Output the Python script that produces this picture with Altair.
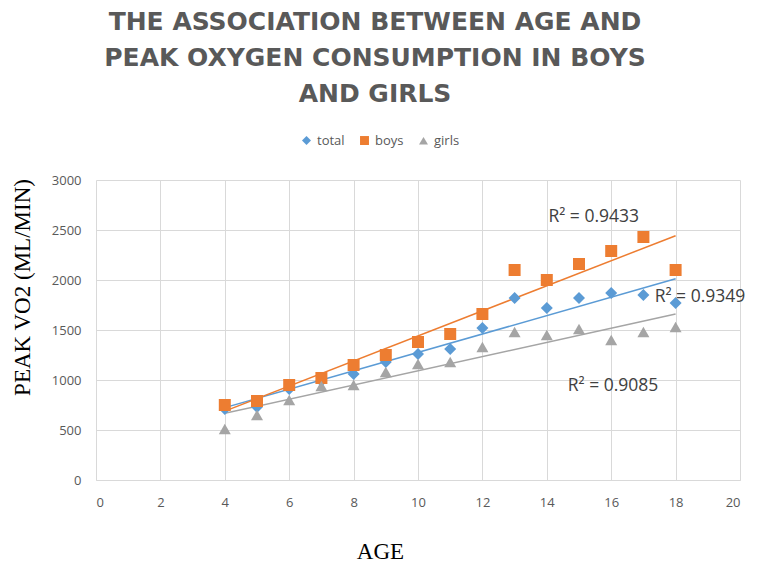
import altair as alt
import pandas as pd

ages = list(range(4, 19))
total = [710, 730, 910, 990, 1060, 1180, 1260, 1310, 1520, 1820, 1720, 1820, 1870, 1850, 1770]
boys = [750, 790, 950, 1020, 1150, 1250, 1380, 1460, 1660, 2100, 2000, 2160, 2290, 2430, 2100]
girls = [510, 650, 800, 940, 950, 1080, 1160, 1180, 1330, 1480, 1450, 1510, 1400, 1480, 1530]

series_names = ["total", "boys", "girls"]
series_colors = ["#5B9BD5", "#ED7D31", "#A5A5A5"]
series_shapes = ["diamond", "square", "triangle-up"]

r2_text = ["R² = 0.9433", "R² = 0.9349", "R² = 0.9085"]
r2_x = [14.05, 17.35, 14.65]
r2_y = [2630, 1830, 940]

rows = []
for name, vals in zip(series_names, [total, boys, girls]):
    for a, v in zip(ages, vals):
        rows.append({"age": a, "value": v, "series": name})
df = pd.DataFrame(rows)
ann = pd.DataFrame({"x": r2_x, "y": r2_y, "text": r2_text})

GRID = "#D9D9D9"
LABEL = "#595959"

xscale = alt.Scale(domain=[0, 20], nice=False)
yscale = alt.Scale(domain=[0, 3000], nice=False)
cscale = alt.Scale(domain=series_names, range=series_colors)
sscale = alt.Scale(domain=series_names, range=series_shapes)

xaxis = alt.Axis(values=list(range(0, 21, 2)), title="AGE", grid=True, gridColor=GRID,
                 domain=True, domainColor=GRID, ticks=False, labelColor=LABEL,
                 labelFont="Open Sans", labelFontSize=13, labelPadding=16,
                 titleFont="Liberation Serif", titleFontSize=23, titleFontWeight="normal",
                 titleColor="#000000", titleX=284, titleY=71, titleBaseline="middle")
yaxis = alt.Axis(values=list(range(0, 3001, 500)), format="d", title="PEAK VO2 (ML/MIN)",
                 grid=True, gridColor=GRID, domain=False, ticks=False, labelColor=LABEL,
                 labelFont="Open Sans", labelFontSize=13, labelPadding=15,
                 titleFont="Liberation Serif", titleFontSize=23, titleFontWeight="normal",
                 titleColor="#000000", titleX=-74, titleY=107, titleAngle=-90,
                 titleBaseline="middle", titleAlign="center")

leg = alt.Legend(title=None, orient="none", legendX=204, legendY=-46, direction="horizontal",
                 labelFont="Open Sans", labelFontSize=13, labelColor=LABEL, symbolSize=80,
                 columnPadding=12, symbolOpacity=1)

points = alt.Chart(df).mark_point(filled=True, size=144, opacity=1).encode(
    x=alt.X("age:Q", scale=xscale, axis=xaxis),
    y=alt.Y("value:Q", scale=yscale, axis=yaxis),
    color=alt.Color("series:N", scale=cscale, legend=leg),
    shape=alt.Shape("series:N", scale=sscale, legend=leg),
)

line_layers = []
for name, col in zip(series_names, series_colors):
    line_layers.append(
        alt.Chart(df).transform_filter(alt.datum.series == name).transform_regression(
            "age", "value", method="linear"
        ).mark_line(strokeWidth=1.5, color=col).encode(
            x=alt.X("age:Q", scale=xscale),
            y=alt.Y("value:Q", scale=yscale),
        )
    )

texts = alt.Chart(ann).mark_text(align="left", baseline="middle", font="Open Sans",
                                 fontSize=17.5, color="#404040").encode(
    x=alt.X("x:Q", scale=xscale),
    y=alt.Y("y:Q", scale=yscale),
    text="text:N",
)

chart = alt.layer(*line_layers, points, texts).properties(
    width=644, height=300,
    autosize=alt.AutoSizeParams(type="none"),
    padding={"left": 88, "top": 172, "right": 17, "bottom": 85},
    title=alt.TitleParams(
        text=["THE ASSOCIATION BETWEEN AGE AND", "PEAK OXYGEN CONSUMPTION IN BOYS", "AND GIRLS"],
        font="DejaVu Sans", fontSize=25, fontWeight="bold", color="#595959",
        lineHeight=36, anchor="middle", dx=-43, offset=27,
    ),
).configure_view(stroke=None)

chart.save("out.html", embed_options={"renderer": "svg", "actions": False})
